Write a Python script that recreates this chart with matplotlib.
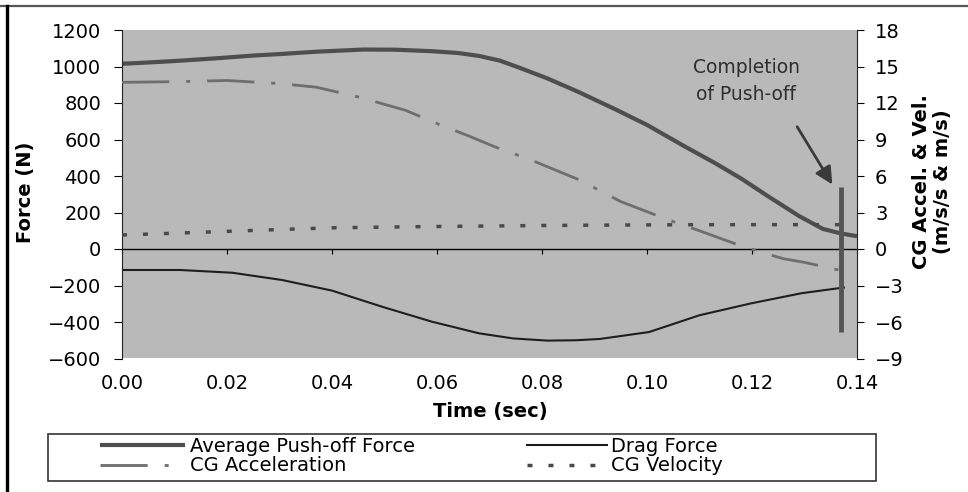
import matplotlib
matplotlib.use("Agg")
import matplotlib.pyplot as plt
from matplotlib.lines import Line2D
from matplotlib.patches import Rectangle
from matplotlib.ticker import FormatStrFormatter

# ---- data ----
push_t = [0, 0.005, 0.010, 0.018, 0.025, 0.030, 0.037, 0.046, 0.052, 0.059, 0.064, 0.068,
          0.072, 0.076, 0.081, 0.087, 0.094, 0.100, 0.107, 0.113, 0.118, 0.123, 0.129,
          0.1335, 0.137, 0.140]
push_f = [1015, 1022, 1030, 1045, 1060, 1068, 1081, 1093, 1092, 1084, 1074, 1058,
          1032, 990, 935, 860, 765, 680, 565, 470, 385, 290, 180,
          110, 85, 70]

drag_t = [0, 0.011, 0.021, 0.0305, 0.040, 0.0495, 0.059, 0.068, 0.0745, 0.081, 0.0865,
          0.091, 0.1004, 0.110, 0.1198, 0.1295, 0.1375]
drag_f = [-115, -115, -130, -170, -228, -316, -398, -462, -490, -502, -500,
          -493, -455, -363, -298, -242, -211]

acc_t = [0, 0.010, 0.020, 0.030, 0.037, 0.045, 0.054, 0.0606, 0.066, 0.071, 0.078, 0.087,
         0.095, 0.104, 0.110, 0.117, 0.122, 0.126, 0.130, 0.1373]
acc_v = [13.7, 13.75, 13.85, 13.6, 13.3, 12.5, 11.4, 10.2, 9.3, 8.4, 7.3, 5.7,
         3.9, 2.4, 1.5, 0.4, -0.3, -0.8, -1.1, -1.8]

vel_t = [0, 0.01, 0.02, 0.03, 0.04, 0.05, 0.06, 0.07, 0.08, 0.09, 0.10, 0.11, 0.12, 0.13, 0.139]
vel_v = [1.15, 1.3, 1.45, 1.6, 1.74, 1.8, 1.85, 1.89, 1.93, 1.96, 1.98, 2.0, 2.0, 2.0, 2.0]

completion_t = 0.137
completion_span = [-6.8, 5.1]

x_ticks = [0.00, 0.02, 0.04, 0.06, 0.08, 0.10, 0.12, 0.14]
force_ticks = [-600, -400, -200, 0, 200, 400, 600, 800, 1000, 1200]
accel_ticks = [-9, -6, -3, 0, 3, 6, 9, 12, 15, 18]

labels = ["Average Push-off Force", "Drag Force", "CG Acceleration", "CG Velocity"]

# ---- figure ----
plt.rcParams["font.family"] = ["DejaVu Sans"]
plt.rcParams["font.size"] = 14

W, H = 968, 492
fig = plt.figure(figsize=(W / 100, H / 100), dpi=100)
fig.patch.set_facecolor("white")

L, R, T, B = 122, 857, 30, 358.5
ax = fig.add_axes([L / W, 1 - B / H, (R - L) / W, (B - T) / H])
ax.set_facecolor("#b9b9b9")

push_style = dict(color="#4e4e4e", lw=3.0, solid_capstyle="butt")
drag_style = dict(color="#1e1e1e", lw=1.5)
acc_style = dict(color="#6e6e6e", lw=2.0, linestyle=(0, (17, 6.1, 1.45, 6.1)))
vel_style = dict(color="#4a4a4a", lw=2.5, linestyle=(0, (1.44, 4.6)))

ax.plot(push_t, push_f, **push_style)
ax.plot(drag_t, drag_f, **drag_style)

ax.set_xlim(0, 0.14)
ax.set_ylim(-600, 1200)
ax.set_yticks(force_ticks)
ax.set_xticks(x_ticks)

for s in ["top", "right"]:
    ax.spines[s].set_visible(False)
ax.spines["bottom"].set_position(("data", 0))
ax.spines["bottom"].set_linewidth(1.0)
ax.spines["bottom"].set_color("black")
ax.spines["left"].set_color("#222222")
ax.tick_params(axis="x", direction="out", length=3.5, width=0.8, labelbottom=False)
ax.tick_params(axis="y", direction="out", length=6, width=0.8, pad=9, labelsize=14)

secx = ax.secondary_xaxis("bottom")
secx.set_xticks(x_ticks)
secx.xaxis.set_major_formatter(FormatStrFormatter("%.2f"))
secx.tick_params(length=0, pad=11, labelsize=14)
secx.spines["bottom"].set_visible(False)

ax2 = ax.twinx()
ax2.plot(acc_t, acc_v, **acc_style)
ax2.plot(vel_t, vel_v, **vel_style)
ax2.set_ylim(-9, 18)
ax2.set_yticks(accel_ticks)
for s in ["top", "left", "bottom"]:
    ax2.spines[s].set_visible(False)
ax2.spines["right"].set_color("#222222")
ax2.tick_params(axis="y", direction="out", length=5, width=0.8, pad=8, labelsize=14)

# completion marker bar
ax2.vlines(completion_t, completion_span[0], completion_span[1], color="#555555", lw=3.5)

# annotation
ax2.annotate("", xy=(0.1353, 5.3), xytext=(0.1286, 10.05),
             arrowprops=dict(arrowstyle="-|>", color="#3a3a3a", lw=2.0, mutation_scale=26,
                             shrinkA=0, shrinkB=0))
ax2.text(0.1189, 13.8, "Completion\nof Push-off", ha="center", va="center",
         fontsize=13.5, color="#2e2e2e", linespacing=1.55)

# axis labels
fig.text(26 / W, 1 - 192 / H, "Force (N)", rotation=90, ha="center", va="center",
         fontsize=14, fontweight="bold")
fig.text(490 / W, 1 - 411 / H, "Time (sec)", ha="center", va="center",
         fontsize=14, fontweight="bold")
fig.text(932 / W, 1 - 182 / H, "CG Accel. & Vel.\n(m/s/s & m/s)", rotation=90,
         ha="center", va="center", fontsize=14, fontweight="bold",
         multialignment="center", linespacing=1.15)

# legend box
fig.add_artist(Rectangle((48 / W, 1 - 481 / H), (876 - 48) / W, (481 - 434) / H,
                         transform=fig.transFigure, facecolor="white",
                         edgecolor="#333333", lw=1.2, zorder=1))

h_push = Line2D([], [], **push_style)
h_drag = Line2D([], [], **drag_style)
h_acc = Line2D([], [], **acc_style)
h_vel = Line2D([], [], **vel_style)

leg1 = fig.legend([h_push, h_acc], [labels[0], labels[2]], loc="upper left",
                  bbox_to_anchor=(100 / W, 1 - 437 / H), frameon=False, borderpad=0,
                  borderaxespad=0, handlelength=4.37, handletextpad=0.25,
                  labelspacing=0.02, fontsize=14)
leg1.set_zorder(3)
leg2 = fig.legend([h_drag, h_vel], [labels[1], labels[3]], loc="upper left",
                  bbox_to_anchor=(527 / W, 1 - 437 / H), frameon=False, borderpad=0,
                  borderaxespad=0, handlelength=4.1, handletextpad=0.2,
                  labelspacing=0.02, fontsize=14)
leg2.set_zorder(3)

# outer frame fragments
fig.add_artist(Line2D([0, 1], [1 - 5.5 / H, 1 - 5.5 / H], transform=fig.transFigure,
                      color="#555555", lw=1.6))
fig.add_artist(Line2D([6.5 / W, 6.5 / W], [0, 1 - 5.5 / H], transform=fig.transFigure,
                      color="black", lw=2.4))

fig.savefig("out.png", dpi=100)
